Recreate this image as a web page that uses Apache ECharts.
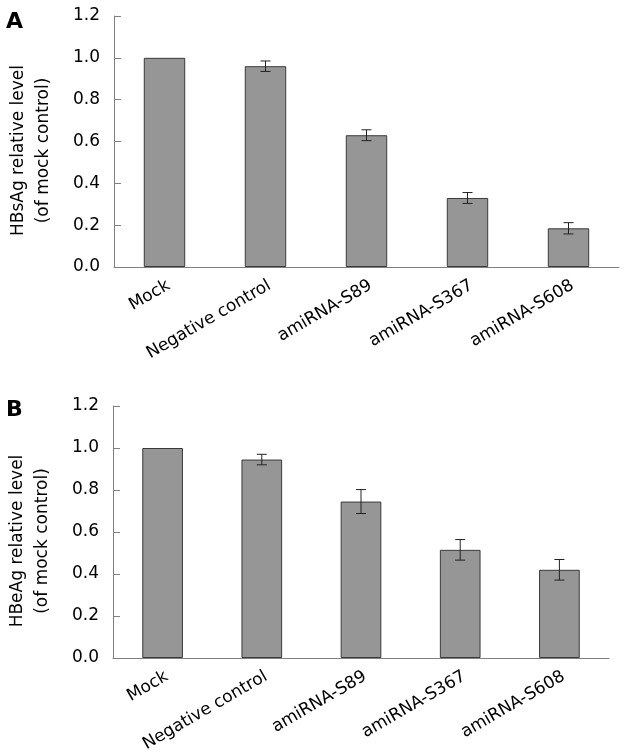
<!DOCTYPE html>
<html lang="en">
<head>
  <meta charset="UTF-8">
  <title>HBsAg / HBeAg</title>
  <style>
    html, body { margin: 0; padding: 0; background: #fff; }
    #chart { width: 629px; height: 755px; }
  </style>
</head>
<body>
  <div id="chart"></div>
  <script src="https://cdn.jsdelivr.net/npm/echarts@6/dist/echarts.min.js"></script>
  <script>
    // groups on the x axis
    var categories = ['Mock', 'Negative control', 'amiRNA-S89', 'amiRNA-S367', 'amiRNA-S608']
    // panel A - HBsAg
    var hbsagMean = [1.0, 0.96, 0.63, 0.33, 0.185]
    var hbsagErr = [0, 0.025, 0.026, 0.026, 0.027]
    // panel B - HBeAg
    var hbeagMean = [1.0, 0.945, 0.745, 0.515, 0.42]
    var hbeagErr = [0, 0.025, 0.057, 0.049, 0.049]

    var font = 'DejaVu Sans'
    var axisGray = '#808080'

    function errData(mean, err) {
      return mean.map(function (m, i) { return [i, m, err[i]] })
    }

    function renderErr(params, api) {
      var x = api.value(0)
      var m = api.value(1)
      var e = api.value(2)
      if (!e) return
      var hi = api.coord([x, m + e])
      var lo = api.coord([x, m - e])
      var w = 5
      var st = { stroke: '#222', lineWidth: 1 }
      return {
        type: 'group',
        children: [
          { type: 'line', shape: { x1: hi[0], y1: hi[1], x2: lo[0], y2: lo[1] }, style: st },
          { type: 'line', shape: { x1: hi[0] - w, y1: hi[1], x2: hi[0] + w, y2: hi[1] }, style: st },
          { type: 'line', shape: { x1: lo[0] - w, y1: lo[1], x2: lo[0] + w, y2: lo[1] }, style: st }
        ]
      }
    }

    function xAxisFor(idx) {
      return {
        type: 'category',
        gridIndex: idx,
        data: categories,
        axisLine: { lineStyle: { color: axisGray } },
        axisTick: { inside: true, length: 7, lineStyle: { color: axisGray } },
        axisLabel: {
          rotate: 30, margin: 10, verticalAlign: 'top',
          fontFamily: font, fontSize: 17, color: '#000', interval: 0
        }
      }
    }

    function yAxisFor(idx, name) {
      return {
        type: 'value',
        gridIndex: idx,
        min: 0,
        max: 1.2,
        interval: 0.2,
        name: name,
        nameLocation: 'middle',
        nameGap: 58,
        nameTextStyle: { fontFamily: font, fontSize: 17, color: '#000', lineHeight: 25, padding: [0, 18, 0, 0] },
        axisLine: { show: true, lineStyle: { color: axisGray } },
        axisTick: { show: true, inside: true, length: 7, lineStyle: { color: axisGray } },
        splitLine: { show: false },
        axisLabel: {
          margin: 14, fontFamily: font, fontSize: 17, color: '#000',
          formatter: function (v) { return v.toFixed(1) }
        }
      }
    }

    var barStyle = { color: '#969696', borderColor: '#3a3a3a', borderWidth: 1 }

    var myChart = echarts.init(document.getElementById('chart'))
    var option = {
      animation: false,
      backgroundColor: '#fff',
      graphic: [
        { type: 'text', left: 6, top: 11, style: { text: 'A', fontFamily: font, fontSize: 22, fontWeight: 'bold', fill: '#000' } },
        { type: 'text', left: 6, top: 399, style: { text: 'B', fontFamily: font, fontSize: 22, fontWeight: 'bold', fill: '#000' } }
      ],
      grid: [
        { left: 114, top: 16, width: 505, height: 251, outerBoundsMode: 'none' },
        { left: 113, top: 406, width: 496, height: 252, outerBoundsMode: 'none' }
      ],
      xAxis: [xAxisFor(0), xAxisFor(1)],
      yAxis: [
        yAxisFor(0, 'HBsAg relative level\n(of mock control)'),
        yAxisFor(1, 'HBeAg relative level\n(of mock control)')
      ],
      series: [
        { type: 'bar', xAxisIndex: 0, yAxisIndex: 0, data: hbsagMean, barWidth: '41%', itemStyle: barStyle },
        { type: 'custom', xAxisIndex: 0, yAxisIndex: 0, data: errData(hbsagMean, hbsagErr), renderItem: renderErr, z: 5 },
        { type: 'bar', xAxisIndex: 1, yAxisIndex: 1, data: hbeagMean, barWidth: '41%', itemStyle: barStyle },
        { type: 'custom', xAxisIndex: 1, yAxisIndex: 1, data: errData(hbeagMean, hbeagErr), renderItem: renderErr, z: 5 }
      ]
    }
    myChart.setOption(option)
  </script>
</body>
</html>
